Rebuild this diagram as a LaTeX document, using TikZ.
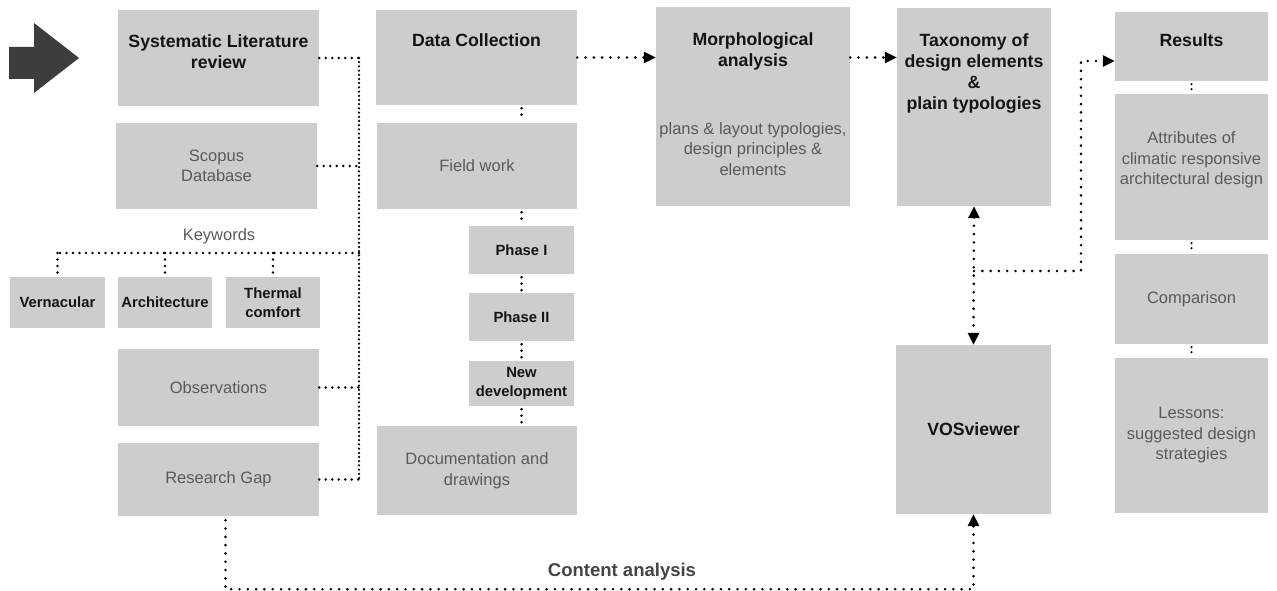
\documentclass[tikz,border=0pt]{standalone}
\usepackage{fontspec}
\setmainfont{Liberation Sans}
\usetikzlibrary{arrows.meta,positioning}
\definecolor{boxgray}{HTML}{CDCDCD}
\definecolor{txtgray}{HTML}{5A5A5A}
\definecolor{capgray}{HTML}{444444}
\definecolor{arrowgray}{HTML}{3D3D3D}

\begin{document}
\begin{tikzpicture}[x=1pt,y=-1pt,
  box/.style={fill=boxgray,inner sep=2pt,align=center},
  ttl/.style={font=\bfseries\fontsize{17.7}{21}\selectfont,align=center,text=black!92},
  lbl/.style={font=\fontsize{16.5}{20.5}\selectfont,align=center,text=txtgray},
  kwd/.style={font=\bfseries\fontsize{14.8}{18.5}\selectfont,align=center,text=black!92},
  dotline/.style={line width=2.9pt,line cap=round,dash pattern=on 0pt off 8.3pt},
  dense/.style={dash pattern=on 0pt off 6.5pt},
  dotarrow/.style={dotline,-{Triangle[length=12pt,width=11pt]}}]
 \useasboundingbox (0,0) rectangle (1277,591);
 % start arrow
 \fill[arrowgray] (9,47) -- (34,47) -- (34,23) -- (79,58) -- (34,93) -- (34,79) -- (9,79) -- cycle;

 % literature column
 \node[box,minimum width=201pt,minimum height=96pt] (slr) at (218.5,58) {};
 \node[ttl] (slr-t) at (218.5,52) {Systematic Literature\\review};
 \node[box,lbl,minimum width=201pt,minimum height=86pt] (scopus) at (216.5,166) {Scopus\\Database};
 \node[lbl] (kw) at (219,236) {Keywords};
 \node[box,kwd,minimum width=95pt,minimum height=51pt] (vern) at (57.5,302.5) {Vernacular};
 \node[box,kwd,minimum width=94pt,minimum height=51pt] (arch) at (165,302.5) {Architecture};
 \node[box,kwd,minimum width=94pt,minimum height=51pt] (therm) at (273,302.5) {Thermal\\comfort};
 \node[box,lbl,minimum width=201pt,minimum height=77pt] (obs) at (218.5,387.5) {Observations};
 \node[box,lbl,minimum width=201pt,minimum height=73pt] (gap) at (218.5,479.5) {Research Gap};

 % data collection column
 \node[box,minimum width=201pt,minimum height=95pt] (dc) at (476.5,57.5) {};
 \node[ttl] (dc-t) at (476.5,40) {Data Collection};
 \node[box,lbl,minimum width=200pt,minimum height=86pt] (field) at (477,166) {Field work};
 \node[box,kwd,minimum width=105pt,minimum height=48pt] (ph1) at (521.5,250) {Phase I};
 \node[box,kwd,minimum width=105pt,minimum height=48pt] (ph2) at (521.5,317) {Phase II};
 \node[box,kwd,minimum width=105pt,minimum height=45pt] (newdev) at (521.5,383.5) {New\\development};
 \node[box,lbl,minimum width=200pt,minimum height=89pt] (doc) at (477,470.5) {Documentation and\\drawings};

 % analysis
 \node[box,minimum width=194pt,minimum height=199pt] (morph) at (753,106.5) {};
 \node[ttl] (morph-t) at (753,51) {Morphological\\analysis};
 \node[lbl] (morph-s) at (753,149) {plans \& layout typologies,\\design principles \&\\elements};
 \node[box,minimum width=154pt,minimum height=198pt] (tax) at (974,107) {};
 \node[ttl] (tax-t) at (974,73) {Taxonomy of\\design elements\\\&\\plain typologies};
 \node[box,ttl,minimum width=155pt,minimum height=169pt] (vos) at (973.5,429.5) {VOSviewer};

 % results column
 \node[box,minimum width=153pt,minimum height=69pt] (res) at (1191.5,46.5) {};
 \node[ttl] (res-t) at (1191.5,40) {Results};
 \node[box,minimum width=153pt,minimum height=146pt] (attr) at (1191.5,167) {};
 \node[lbl] (attr-t) at (1191.5,160) {Attributes of\\climatic responsive\\architectural design};
 \node[box,lbl,minimum width=153pt,minimum height=90pt] (comp) at (1191.5,299) {Comparison};
 \node[box,lbl,minimum width=153pt,minimum height=155pt] (less) at (1191.5,435.5) {Lessons:\\suggested design\\strategies};

 % literature links
 \coordinate (bus) at (359,0);
 \coordinate (kwline) at (0,253);
 \draw[dotline,dash pattern=on 0pt off 4.2pt,line width=2.5pt] (slr.east -| bus) -- (gap.east -| bus);
 \foreach \b in {slr,scopus,obs,gap}
  \draw[dotline,dense] (\b.east) -- (\b.east -| bus);
 \draw[dotline,dense] (kwline -| bus) -- (kwline -| vern.north);
 \foreach \k in {vern,arch,therm}
  \draw[dotline,dense,shorten >=4pt] (kwline -| \k.north) -- (\k.north);

 % field work chain
 \draw[dotline,dense,shorten <=3pt,shorten >=2pt] (dc.south -| ph1) -- (field.north -| ph1);
 \draw[dotline,dense,shorten <=3pt,shorten >=2pt] (field.south -| ph1) -- (ph1.north);
 \draw[dotline,dense,shorten <=3pt,shorten >=2pt] (ph1.south) -- (ph2.north);
 \draw[dotline,dense,shorten <=3pt,shorten >=2pt] (ph2.south) -- (newdev.north);
 \draw[dotline,dense,shorten <=3pt,shorten >=2pt] (newdev.south) -- (doc.north -| newdev);

 % main flow
 \draw[dotarrow] (dc.east) -- (dc.east -| morph.west);
 \draw[dotarrow] (dc.east -| morph.east) -- (dc.east -| tax.west);
 \draw[dotline,{Triangle[length=12pt,width=11pt]}-{Triangle[length=12pt,width=11pt]}] (tax.south) -- (vos.north);
 \coordinate (fork) at (974,271);
 \coordinate (riser) at (1081,61);
 \draw[dotarrow] (fork) -| (riser) -- (riser -| res.west);
 \foreach \a/\b in {res/attr,attr/comp,comp/less}
  \draw[dotline,dash pattern=on 0pt off 5pt,line width=2.4pt,shorten <=3pt,shorten >=3pt] (\a.south) -- (\b.north);

 % content analysis
 \draw[dotarrow,shorten <=4pt] ([xshift=7pt]gap.south) -- ++(0,73) -| (vos.south);
 \node[font=\bfseries\fontsize{18.5}{22}\selectfont,text=capgray] (ca) at (622,572) {Content analysis};
\end{tikzpicture}
\end{document}
